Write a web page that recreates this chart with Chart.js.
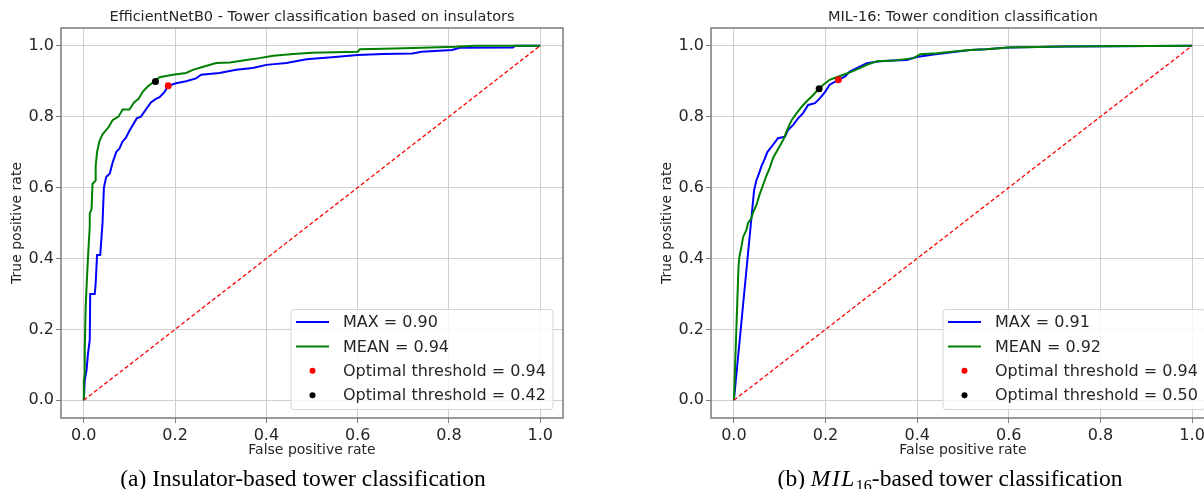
<!DOCTYPE html>
<html>
<head>
<meta charset="utf-8">
<script src="https://cdn.jsdelivr.net/npm/chart.js@4.4.1/dist/chart.umd.min.js"></script>
<style>
  html, body { margin: 0; padding: 0; background: #fff; width: 1204px; height: 489px; overflow: hidden; position: relative; }
  canvas { position: absolute; top: 0; }
  #left { left: 0; width: 600px; height: 470px; }
  #right { left: 650px; width: 570px; height: 470px; }
  .cap { position: absolute; top: 464px; font-family: "Liberation Serif", "Times New Roman", serif; font-size: 23.5px; line-height: 28px; color: #000; white-space: nowrap; transform: translateX(-50%); }
  .cap i { letter-spacing: 1.5px; }
  .cap sub { font-size: 16px; line-height: 0; vertical-align: -5px; }
</style>
</head>
<body>
<canvas id="left" width="600" height="470"></canvas>
<canvas id="right" width="570" height="470"></canvas>
<div class="cap" style="left:303px">(a) Insulator-based tower classification</div>
<div class="cap" style="left:950px">(b) <i>MIL</i><sub>16</sub>-based tower classification</div>
<script>
const FONT = "'DejaVu Sans', sans-serif";
const TEXT = "#262626";

// axis ticks (both panels)
const xTicks = [0, 0.2, 0.4, 0.6, 0.8, 1.0];
const yTicks = [0, 0.2, 0.4, 0.6, 0.8, 1.0];

// (a) EfficientNetB0 - ROC points [fpr, tpr]
const effMax = [[0,0],[0.002,0.056],[0.006,0.085],[0.009,0.13],[0.013,0.17],[0.014,0.30],[0.024,0.30],[0.026,0.33],
  [0.029,0.41],[0.036,0.41],[0.041,0.50],[0.044,0.60],[0.049,0.63],[0.057,0.64],[0.063,0.67],[0.071,0.70],[0.078,0.71],
  [0.085,0.73],[0.092,0.74],[0.1,0.76],[0.116,0.795],[0.125,0.80],[0.136,0.82],[0.147,0.84],[0.158,0.85],[0.166,0.855],
  [0.177,0.87],[0.185,0.887],[0.202,0.894],[0.224,0.90],[0.246,0.908],[0.257,0.918],[0.297,0.923],[0.334,0.932],
  [0.37,0.937],[0.4,0.946],[0.444,0.951],[0.488,0.962],[0.55,0.968],[0.6,0.974],[0.655,0.977],[0.72,0.978],[0.74,0.983],
  [0.807,0.988],[0.824,0.994],[0.94,0.995],[0.945,1.0],[1,1]];
const effMean = [[0,0],[0,0.056],[0.002,0.075],[0.002,0.14],[0.004,0.26],[0.006,0.32],[0.009,0.40],[0.013,0.49],
  [0.013,0.526],[0.017,0.54],[0.019,0.61],[0.026,0.62],[0.026,0.66],[0.029,0.70],[0.034,0.73],[0.041,0.75],[0.054,0.77],
  [0.063,0.79],[0.076,0.80],[0.085,0.82],[0.1,0.82],[0.11,0.84],[0.12,0.85],[0.129,0.87],[0.14,0.885],[0.155,0.90],
  [0.166,0.911],[0.195,0.918],[0.224,0.923],[0.239,0.932],[0.26,0.94],[0.29,0.951],[0.32,0.953],[0.356,0.96],
  [0.385,0.965],[0.415,0.972],[0.459,0.977],[0.5,0.98],[0.6,0.983],[0.605,0.99],[0.68,0.992],[0.74,0.994],
  [0.815,0.997],[0.857,1.0],[1,1]];
const effOptMax = [0.185, 0.887];
const effOptMean = [0.157, 0.899];
const effLabels = ["MAX = 0.90", "MEAN = 0.94", "Optimal threshold = 0.94", "Optimal threshold = 0.42"];

// (b) MIL-16 - ROC points [fpr, tpr]
const milMax = [[0,0],[0.044,0.592],[0.049,0.62],[0.056,0.644],[0.06,0.66],[0.067,0.68],[0.073,0.70],[0.085,0.72],
  [0.093,0.734],[0.096,0.739],[0.111,0.743],[0.118,0.762],[0.129,0.776],[0.14,0.795],[0.151,0.81],[0.162,0.833],
  [0.177,0.838],[0.188,0.852],[0.199,0.87],[0.209,0.89],[0.228,0.904],[0.242,0.913],[0.253,0.927],[0.268,0.937],
  [0.29,0.951],[0.319,0.956],[0.348,0.958],[0.377,0.96],[0.399,0.968],[0.436,0.975],[0.48,0.982],[0.516,0.988],
  [0.55,0.99],[0.6,0.995],[0.72,0.998],[1,1]];
const milMean = [[0,0],[0.010,0.376],[0.012,0.405],[0.016,0.43],[0.02,0.46],[0.027,0.48],[0.031,0.50],[0.038,0.513],
  [0.042,0.53],[0.049,0.55],[0.056,0.58],[0.063,0.605],[0.07,0.63],[0.078,0.655],[0.086,0.685],[0.097,0.71],
  [0.108,0.735],[0.116,0.762],[0.126,0.79],[0.137,0.81],[0.148,0.828],[0.158,0.842],[0.173,0.861],[0.185,0.878],
  [0.195,0.89],[0.209,0.904],[0.224,0.911],[0.239,0.918],[0.257,0.927],[0.275,0.937],[0.29,0.946],[0.312,0.956],
  [0.348,0.958],[0.392,0.965],[0.407,0.976],[0.443,0.979],[0.48,0.984],[0.516,0.988],[0.55,0.99],[0.6,0.995],
  [0.72,0.998],[1,1]];
const milOptMax = [0.228, 0.904];
const milOptMean = [0.186, 0.879];
const milLabels = ["MAX = 0.91", "MEAN = 0.92", "Optimal threshold = 0.94", "Optimal threshold = 0.50"];

const chance = [[0,0],[1,1]];

const xy = (pts) => pts.map(p => ({ x: p[0], y: p[1] }));

// frame, panel title and the lower-right legend, matplotlib style
const decor = {
  id: "decor",
  afterDraw(chart, args, opts) {
    const { ctx, chartArea: a } = chart;
    ctx.save();
    ctx.strokeStyle = "#7a7a7a";
    ctx.lineWidth = 1.5;
    ctx.strokeRect(a.left, a.top, a.right - a.left, a.bottom - a.top);

    ctx.fillStyle = TEXT;
    ctx.font = "14.5px " + FONT;
    ctx.textAlign = "center";
    ctx.textBaseline = "middle";
    ctx.fillText(opts.title, (a.left + a.right) / 2, 17);

    const bx = a.right - 272, by = a.bottom - 108.5, bw = 262, bh = 100;
    ctx.fillStyle = "rgba(255,255,255,0.8)";
    ctx.strokeStyle = "#d6d6d6";
    ctx.lineWidth = 1;
    ctx.beginPath();
    ctx.roundRect(bx, by, bw, bh, 3);
    ctx.fill();
    ctx.stroke();

    const ds = chart.data.datasets;
    ctx.font = "16px " + FONT;
    ctx.textAlign = "left";
    for (let i = 0; i < 4; i++) {
      const d = ds[i];
      const y = by + 12.5 + i * 24.4;
      if (d.showLine) {
        ctx.strokeStyle = d.borderColor;
        ctx.lineWidth = 2;
        ctx.beginPath();
        ctx.moveTo(bx + 5, y);
        ctx.lineTo(bx + 38, y);
        ctx.stroke();
      } else {
        ctx.fillStyle = d.backgroundColor;
        ctx.beginPath();
        ctx.arc(bx + 21.5, y, 3, 0, Math.PI * 2);
        ctx.fill();
      }
      ctx.fillStyle = TEXT;
      ctx.fillText(d.label, bx + 52, y + 1);
    }
    ctx.restore();
  }
};

function rocChart(id, title, maxPts, meanPts, optMax, optMean, labels) {
  return new Chart(document.getElementById(id), {
    type: "scatter",
    data: {
      datasets: [
        { label: labels[0], data: xy(maxPts), showLine: true, borderColor: "#0000ff", borderWidth: 2, pointRadius: 0, order: 3 },
        { label: labels[1], data: xy(meanPts), showLine: true, borderColor: "#008000", borderWidth: 2, pointRadius: 0, order: 2 },
        { label: labels[2], data: xy([optMax]), showLine: false, backgroundColor: "#ff0000", borderWidth: 0, pointRadius: 3.5, order: 0 },
        { label: labels[3], data: xy([optMean]), showLine: false, backgroundColor: "#000000", borderWidth: 0, pointRadius: 3.5, order: 0 },
        { label: "chance", data: xy(chance), showLine: true, borderColor: "#ff0000", borderWidth: 1.3, borderDash: [4, 2.5], pointRadius: 0, order: 1 }
      ]
    },
    options: {
      responsive: false,
      animation: false,
      layout: { padding: { top: 28, right: id === "left" ? 37 : 5, bottom: 0, left: 0 } },
      plugins: { legend: { display: false }, tooltip: { enabled: false }, decor: { title } },
      scales: {
        x: {
          type: "linear", min: -0.05, max: 1.05,
          afterBuildTicks: s => { s.ticks = xTicks.map(v => ({ value: v })); },
          afterFit: s => { s.height = 52; },
          ticks: { callback: v => v.toFixed(1), font: { family: FONT, size: 16 }, color: TEXT, padding: 3, maxRotation: 0, autoSkip: false },
          grid: { color: "#cfcfcf", lineWidth: 1, tickLength: 5, tickColor: "#7f7f7f" },
          border: { display: false },
          title: { display: true, text: "False positive rate", font: { family: FONT, size: 14 }, color: TEXT, padding: { top: 0, bottom: 11 } }
        },
        y: {
          type: "linear", min: -0.05, max: 1.05,
          afterBuildTicks: s => { s.ticks = yTicks.map(v => ({ value: v })); },
          afterFit: s => { s.width = 61; },
          ticks: { callback: v => v.toFixed(1), font: { family: FONT, size: 16 }, color: TEXT, padding: 2, autoSkip: false },
          grid: { color: "#cfcfcf", lineWidth: 1, tickLength: 5, tickColor: "#7f7f7f" },
          border: { display: false },
          title: { display: true, text: "True positive rate", font: { family: FONT, size: 14 }, color: TEXT, padding: { top: 9, bottom: 0 } }
        }
      }
    },
    plugins: [decor]
  });
}

rocChart("left", "EfficientNetB0 - Tower classification based on insulators", effMax, effMean, effOptMax, effOptMean, effLabels);
rocChart("right", "MIL-16: Tower condition classification", milMax, milMean, milOptMax, milOptMean, milLabels);
</script>
</body>
</html>
